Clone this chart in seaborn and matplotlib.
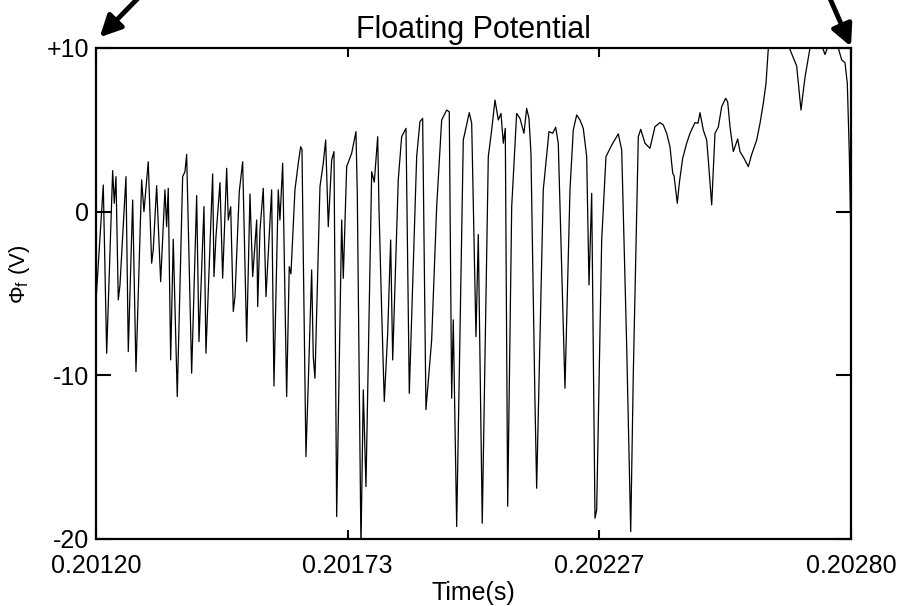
import matplotlib
matplotlib.use("Agg")
import matplotlib.pyplot as plt
import seaborn as sns
import numpy as np
import pandas as pd

# style
sns.set_style("white")
plt.rcParams['font.family'] = ['Liberation Sans', 'DejaVu Sans']
plt.rcParams['mathtext.fontset'] = 'custom'
plt.rcParams['mathtext.rm'] = 'Liberation Sans'
plt.rcParams['mathtext.it'] = 'Liberation Sans'
plt.rcParams['text.color'] = 'black'
plt.rcParams['axes.labelcolor'] = 'black'
plt.rcParams['xtick.color'] = 'black'
plt.rcParams['ytick.color'] = 'black'

# data: time offset from 0.20120 s in microseconds, floating potential in volts
t0 = 0.20120
time_us = [
    0.0, 15.5, 22.7, 35.4, 38.8, 42.4, 47.3, 50.9, 63.6, 68.5,
    77.8, 84.8, 96.8, 101.7, 110.8, 118.0, 121.4, 128.6, 137.1, 146.2,
    149.8, 153.2, 158.3, 163.8, 172.3, 183.7, 188.6, 192.2, 202.8, 213.4,
    218.3, 228.9, 233.1, 247.3, 250.1, 254.3, 262.8, 268.5, 277.0, 280.4,
    285.5, 291.0, 294.6, 303.7, 310.9, 319.4, 326.4, 332.1, 337.0, 340.6,
    342.7, 347.6, 354.5, 360.3, 372.3, 377.2, 386.3, 389.9, 395.7, 400.5,
    404.1, 409.6, 413.2, 421.7, 428.7, 433.8, 436.6, 439.3, 445.0, 449.9,
    457.1, 460.5, 464.1, 474.7, 481.7, 486.8, 492.3, 499.5, 504.4, 510.1,
    520.7, 524.1, 531.3, 541.9, 551.0, 553.8, 561.6, 566.5, 572.2, 584.3,
    589.8, 597.0, 599.7, 605.4, 611.0, 618.2, 624.5, 628.8, 640.6, 647.8,
    657.0, 664.0, 679.6, 686.6, 692.3, 699.3, 711.4, 722.0, 732.6, 743.2,
    748.7, 753.8, 757.2, 764.4, 778.4, 791.1, 796.2, 805.3, 810.2, 818.6,
    831.4, 838.6, 845.6, 852.6, 858.3, 863.2, 867.4, 872.5, 881.0, 891.5,
    898.5, 907.0, 912.7, 917.6, 921.8, 930.3, 933.9, 947.9, 960.0, 967.8,
    974.2, 979.7, 993.9, 1004.5, 1011.5, 1018.7, 1025.7, 1032.7, 1039.9, 1044.8,
    1050.5, 1057.5, 1061.1, 1071.7, 1080.8, 1092.9, 1103.5, 1106.9, 1114.1, 1124.7,
    1133.2, 1138.7, 1149.3, 1154.4, 1163.5, 1174.0, 1184.6, 1195.2, 1202.2, 1209.4,
    1216.4, 1222.2, 1225.0, 1231.9, 1236.1, 1243.3, 1251.8, 1258.8, 1269.4, 1275.7,
    1280.0, 1287.0, 1294.2, 1297.6, 1304.8, 1311.8, 1318.8, 1326.0, 1334.5, 1338.7,
    1343.6, 1350.6, 1359.9, 1364.8, 1373.3, 1382.4, 1389.6, 1400.2, 1407.2, 1414.2,
    1419.9, 1424.8, 1432.6, 1460.2, 1470.8, 1475.0, 1484.9, 1494.0, 1502.5, 1513.1,
    1523.7, 1540.0, 1544.9, 1549.8, 1561.9, 1573.1, 1580.3, 1587.3, 1592.2, 1596.4,
    1600.0,
]
phi_v = [
    -5.5, 1.63, -8.65, 2.51, 0.51, 2.14, -5.39, -4.48, 2.14, -8.55,
    0.71, -9.77, 1.94, 0.0, 3.05, -3.15, -2.34, 1.59, -4.28, 1.33,
    -0.92, 1.43, -9.06, -1.69, -11.3, 2.14, 2.44, 3.5, -9.87, 0.98,
    -7.94, 0.31, -8.65, 2.30, -3.97, -1.53, 1.77, -4.07, 2.65, -0.51,
    0.3, -6.1, -5.19, 1.22, 3.05, -7.94, 1.08, -3.97, -1.93, -0.51,
    -5.8, -1.12, 1.43, -5.19, 1.33, -10.65, 1.33, -0.51, 2.96, -4.99,
    -11.3, -3.36, -3.8, 1.33, 2.96, 3.97, 3.8, -2.54, -14.97, -10.48,
    -3.56, -8.86, -10.18, 1.53, 2.96, 4.38, -0.92, 3.16, 3.67, -18.63,
    -0.51, -4.07, 2.75, 3.57, 4.89, 1.12, -20.5, -10.89, -16.8, 2.44,
    1.8, 4.58, 0.3, -6.0, -11.6, -7.43, -1.73, -9.06, 1.94, 4.58,
    5.09, -11.1, 3.36, 5.5, 5.7, -12.1, -7.84, 0.3, 5.6, 6.21,
    6.1, -11.4, -6.61, -19.24, 4.38, 6.05, 5.4, -7.64, -1.4, -19.04,
    3.36, 4.99, 6.82, 5.6, 6.0, 4.18, 5.09, -18.0, 0.3, 6.0,
    5.7, 4.79, 6.31, 5.7, 3.57, -11.6, -16.9, 1.33, 4.89, 4.79,
    5.16, 4.18, -10.79, 1.33, 4.99, 5.91, 5.6, 5.09, 3.36, -4.48,
    1.12, -18.73, -18.2, -1.73, 3.36, 4.07, 4.58, 4.75, 3.77, -8.25,
    -19.55, -9.87, 4.58, 5.03, 4.18, 3.87, 5.19, 5.44, 5.3, 4.79,
    3.97, 2.35, 2.2, 0.51, 1.73, 3.26, 4.18, 4.79, 5.44, 5.4,
    6.05, 4.99, 4.38, 3.16, 0.41, 4.79, 5.16, 6.42, 6.93, 6.7,
    5.19, 3.67, 4.44, 3.67, 3.26, 2.75, 3.5, 4.38, 5.4, 6.62,
    7.84, 9.98, 12.0, 11.5, 9.9, 9.6, 8.9, 6.21, 8.2, 10.0,
    11.0, 10.0, 9.6, 10.0, 11.0, 10.0, 9.27, 9.1, 7.84, 3.57,
    -2.0,
]

x_ticks = [0.20120, 0.20120 + 0.0016 / 3, 0.20120 + 0.0032 / 3, 0.20280]
x_tick_labels = ['0.20120', '0.20173', '0.20227', '0.20280']
y_ticks = [-20, -10, 0, 10]
y_tick_labels = ['-20', '-10', '0', '+10']

df = pd.DataFrame({'Time': t0 + np.array(time_us) * 1e-6, 'Phi': phi_v})

fig = plt.figure(figsize=(9.01, 6.06), dpi=100)
ax = fig.add_axes([0.1065, 0.1106, 0.838, 0.8102])

sns.lineplot(data=df, x='Time', y='Phi', estimator=None, sort=False,
             color='black', linewidth=0.9, ax=ax)

ax.set_xlim(0.20120, 0.20280)
ax.set_ylim(-20, 10)
ax.set_xticks(x_ticks)
ax.set_xticklabels(x_tick_labels)
ax.set_yticks(y_ticks)
ax.set_yticklabels(y_tick_labels)

ax.tick_params(axis='x', direction='in', length=6.5, width=1.5, labelsize=18,
               top=True, bottom=True, pad=11)
ax.tick_params(axis='y', direction='in', length=11, width=1.5, labelsize=18,
               left=True, right=True, pad=5)
for spine in ax.spines.values():
    spine.set_linewidth(1.6)
    spine.set_color('black')

ax.set_xlabel('Time(s)', fontsize=18)
ax.set_ylabel(r'$\Phi_{\rm f}$ (V)', fontsize=16)
ax.xaxis.set_label_coords(0.5, -0.086)
ax.yaxis.set_label_coords(-0.085, 0.54)

ax.set_title('Floating Potential', fontsize=22, pad=7)

# corner arrows
arrow_kw = dict(arrowstyle='-|>', color='black', lw=3.5, mutation_scale=32,
                shrinkA=0, shrinkB=0)
ax.annotate('', xy=(0.005, 1.022), xytext=(0.058, 1.105),
            xycoords='axes fraction', textcoords='axes fraction',
            arrowprops=arrow_kw, annotation_clip=False)
ax.annotate('', xy=(1.0, 1.003), xytext=(0.971, 1.105),
            xycoords='axes fraction', textcoords='axes fraction',
            arrowprops=arrow_kw, annotation_clip=False)

fig.savefig('out.png', dpi=100)
